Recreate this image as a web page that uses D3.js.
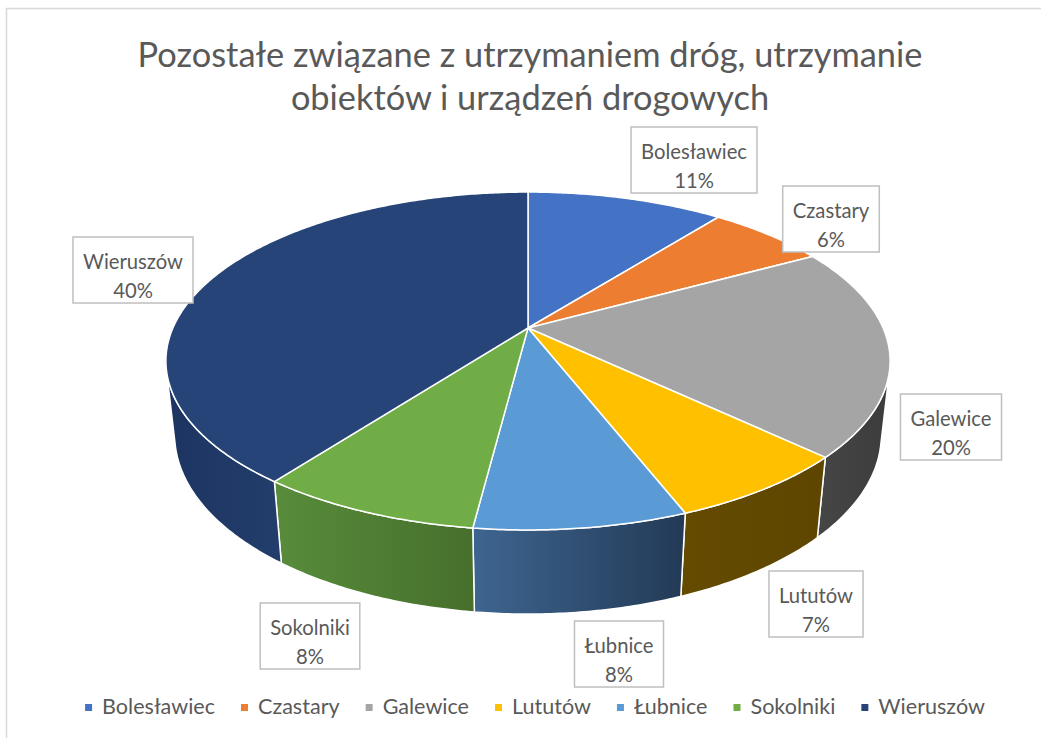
<!DOCTYPE html>
<html>
<head>
<meta charset="utf-8">
<script src="https://cdn.jsdelivr.net/npm/d3@7"></script>
<style>
  body { margin: 0; background: #fff; }
  svg { display: block; }
  text { font-family: Lato, "Open Sans", sans-serif; fill: #595959; }
</style>
</head>
<body>
<div id="chart"></div>
<script>
// Data (shares in percent)
var names = ["Bolesławiec", "Czastary", "Galewice", "Lututów", "Łubnice", "Sokolniki", "Wieruszów"];
var shares = [10.6, 6.4, 20.1, 7.0, 7.9, 8.3, 39.7];
var titleLines = ["Pozostałe związane z utrzymaniem dróg, utrzymanie", "obiektów i urządzeń drogowych"];

// Colours
var topColors  = ["#4472C4", "#ED7D31", "#A5A5A5", "#FFC000", "#5B9BD5", "#70AD47", "#264478"];
var sideLight  = ["#2f5597", "#b85c1e", "#464646", "#644b00", "#3e6590", "#588c3b", "#1d3461"];
var sideDark   = ["#294c88", "#a8531a", "#3c3c3c", "#5e4600", "#233a56", "#466f2c", "#233e6c"];

// Layout: label box centres
var labelCenters = [[694, 160], [831, 219], [951, 427], [816, 604], [619, 654], [310, 636], [133, 270]];

var svgWidth = 1041, svgHeight = 738;

var svg = d3.select("#chart").append("svg")
  .attr("width", svgWidth)
  .attr("height", svgHeight);

// chart frame
svg.append("rect")
  .attr("x", 6.5).attr("y", 8.5)
  .attr("width", 1100).attr("height", 800)
  .attr("fill", "#fff")
  .attr("stroke", "#d9d9d9")
  .attr("stroke-width", 1.5);

// Perspective model of the 3D pie
var cx = 528, cy = 328;
var camD = 4.548, tilt = Math.asin(0.459), thick = 0.237;
var focal = 1610, focalX = 1615;
var cosT = Math.cos(tilt), sinT = Math.sin(tilt);

function project(a, yw) {
  var x3 = Math.sin(a), z3 = Math.cos(a);
  var depth = camD + z3 * cosT - yw * sinT;
  var up = yw * cosT + z3 * sinT;
  return [cx + focalX * x3 / depth, cy - focal * up / depth];
}

function arcPoints(a0, a1, yw) {
  var n = Math.max(2, Math.ceil(Math.abs(a1 - a0) / 0.01));
  return d3.range(n + 1).map(function(i) { return project(a0 + (a1 - a0) * i / n, yw); });
}

// outer wall visible where it faces the camera
var visLim = Math.acos(-1 / (camD * cosT));
var vis0 = visLim, vis1 = 2 * Math.PI - visLim;

var pie = d3.pie().sort(null).value(function(d) { return d; });
var arcs = pie(shares);
var total = d3.sum(shares);

var line = d3.line();
var defs = svg.append("defs");
var pieGroup = svg.append("g");

// walls
arcs.forEach(function(d, i) {
  var a0 = Math.max(d.startAngle, vis0), a1 = Math.min(d.endAngle, vis1);
  if (a1 <= a0) return;
  var topPts = arcPoints(a0, a1, 0);
  var botPts = arcPoints(a1, a0, -thick);
  var pts = topPts.concat(botPts);
  var xs = d3.extent(pts, function(p) { return p[0]; });
  var grad = defs.append("linearGradient")
    .attr("id", "wall" + i)
    .attr("gradientUnits", "userSpaceOnUse")
    .attr("x1", xs[0]).attr("x2", xs[1]).attr("y1", 0).attr("y2", 0);
  grad.append("stop").attr("offset", "0%").attr("stop-color", sideLight[i]);
  grad.append("stop").attr("offset", "100%").attr("stop-color", sideDark[i]);
  pieGroup.append("path")
    .attr("d", line(pts) + "Z")
    .attr("fill", "url(#wall" + i + ")")
    .attr("stroke", "#fff")
    .attr("stroke-width", 1.5)
    .attr("stroke-linejoin", "round");
});

// top faces
arcs.forEach(function(d, i) {
  var pts = [[cx, cy]].concat(arcPoints(d.startAngle, d.endAngle, 0));
  pieGroup.append("path")
    .attr("d", line(pts) + "Z")
    .attr("fill", topColors[i])
    .attr("stroke", "#fff")
    .attr("stroke-width", 1.5)
    .attr("stroke-linejoin", "round");
});

// helper to fit a font size to a target width
function fitSize(str, targetWidth, base) {
  var t = svg.append("text").style("font-size", base + "px").text(str);
  var w = t.node().getComputedTextLength();
  t.remove();
  return base * targetWidth / w;
}

// Title
var titleSize = fitSize(titleLines[0], 785, 30);
svg.selectAll(".title")
  .data(titleLines)
  .enter()
  .append("text")
  .attr("class", "title")
  .attr("x", 530)
  .attr("y", function(d, i) { return 67 + i * 43; })
  .attr("text-anchor", "middle")
  .style("font-size", titleSize + "px")
  .text(function(d) { return d; });

// Data labels
var labelSize = fitSize("Bolesławiec", 106, 18);
var labels = svg.selectAll(".lbl")
  .data(arcs)
  .enter()
  .append("g")
  .attr("class", "lbl")
  .attr("transform", function(d, i) { return "translate(" + labelCenters[i][0] + "," + labelCenters[i][1] + ")"; });

labels.each(function(d, i) {
  var g = d3.select(this);
  var pct = Math.round(d.value / total * 100) + "%";
  var box = g.append("rect").attr("fill", "#fff").attr("stroke", "#bfbfbf").attr("stroke-width", 1.5);
  var t1 = g.append("text").attr("text-anchor", "middle").attr("y", -1)
    .style("font-size", labelSize + "px").text(names[i]);
  var t2 = g.append("text").attr("text-anchor", "middle").attr("y", 28)
    .style("font-size", labelSize + "px").text(pct);
  var w = Math.max(t1.node().getComputedTextLength(), t2.node().getComputedTextLength()) + 20;
  box.attr("x", -w / 2).attr("y", -33).attr("width", w).attr("height", 66);
});

// Legend
var legendSize = fitSize("Bolesławiec", 113, 18);
var legend = svg.append("g");
var lx = 0;
names.forEach(function(n, i) {
  var item = legend.append("g").attr("transform", "translate(" + lx + ",0)");
  item.append("rect").attr("x", 0).attr("y", -10).attr("width", 7).attr("height", 7).attr("fill", topColors[i]);
  var t = item.append("text").attr("x", 17).attr("y", 0).style("font-size", legendSize + "px").text(n);
  lx += 17 + t.node().getComputedTextLength() + 26;
});
lx -= 26;
legend.attr("transform", "translate(" + (535 - lx / 2) + ",714)");
</script>
</body>
</html>
